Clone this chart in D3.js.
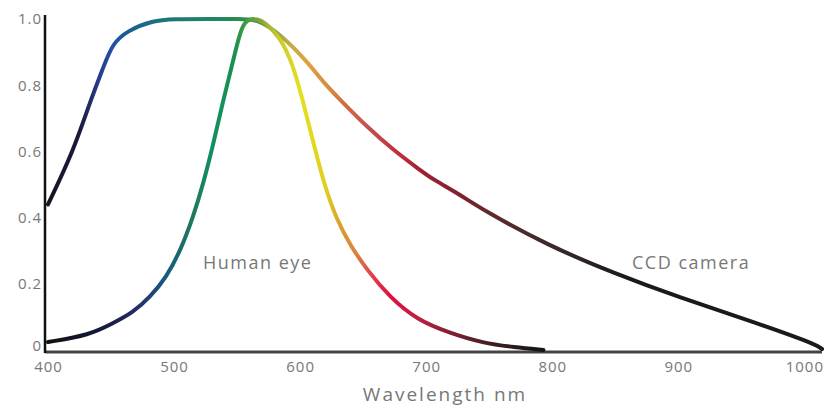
<!DOCTYPE html>
<html>
<head>
<meta charset="utf-8">
<script src="https://cdn.jsdelivr.net/npm/d3@7"></script>
<style>
  body { margin: 0; background: #fff; }
  text { font-family: "Open Sans", sans-serif; fill: #777; }
</style>
</head>
<body>
<div id="vis"></div>
<script>
// data (wavelength nm, relative response)
const eye_nm  = [400, 433, 452, 467, 481, 494, 505, 515, 523, 531, 539, 547, 552, 556, 560, 566, 572, 584, 594, 602, 610, 619, 629, 640, 653, 671, 693, 719, 745, 770, 793];
const eye_val = [0.024, 0.045, 0.082, 0.112, 0.16, 0.22, 0.30, 0.40, 0.50, 0.62, 0.755, 0.876, 0.955, 0.99, 1.0, 1.0, 0.99, 0.946, 0.867, 0.755, 0.634, 0.50, 0.393, 0.315, 0.242, 0.16, 0.09, 0.051, 0.021, 0.008, 0.0];

const ccd_nm  = [400, 420, 433, 444, 451, 463, 483, 499, 530, 552, 566, 584, 606, 618, 632, 653, 674, 695, 706, 725, 745, 796, 848, 902, 955, 1007, 1014];
const ccd_val = [0.44, 0.60, 0.746, 0.855, 0.925, 0.965, 0.995, 1.0, 1.0, 1.0, 1.0, 0.955, 0.87, 0.81, 0.755, 0.674, 0.604, 0.544, 0.514, 0.474, 0.423, 0.317, 0.233, 0.157, 0.091, 0.021, 0.003];

// line colour stops along wavelength
const eye_stop_nm  = [400, 440, 467, 481, 494, 505, 515, 530, 548, 560, 570, 582, 600, 620, 632, 645, 657, 672, 692, 720, 750, 790];
const eye_stop_col = ["#111111", "#15183a", "#252a60", "#20407a", "#1a5a80", "#1a6a70", "#207a5a", "#109060", "#1a9050", "#50a040", "#90a830", "#c8c830", "#e4e020", "#e0d020", "#d8a030", "#d88040", "#e04050", "#e01040", "#c02040", "#802030", "#402020", "#151515"];

const ccd_stop_nm  = [400, 425, 440, 450, 465, 485, 520, 550, 565, 577, 592, 606, 620, 634, 655, 676, 697, 725, 750, 800, 860];
const ccd_stop_col = ["#151525", "#1a1a3a", "#2a3a8a", "#2050a0", "#1a6090", "#1a7080", "#208070", "#2a8a50", "#40904a", "#80a040", "#c0b040", "#e0a040", "#d89040", "#d07040", "#c05050", "#c03040", "#a02030", "#802030", "#602a2a", "#3a2a2a", "#1a1a1a"];

const x_ticks = [400, 500, 600, 700, 800, 900, 1000];
const y_ticks = [0, 0.2, 0.4, 0.6, 0.8, 1.0];

const frame_width = 825;
const frame_height = 409;

const x_scale = d3.scaleLinear().domain([400, 1014]).range([48, 822]);
const y_scale = d3.scaleLinear().domain([0, 1]).range([350, 19]);

const svg = d3.select("#vis")
  .append("svg")
    .attr("width", frame_width)
    .attr("height", frame_height);

const defs = svg.append("defs");

function addGradient(id, nms, cols) {
  const g = defs.append("linearGradient")
    .attr("id", id)
    .attr("gradientUnits", "userSpaceOnUse")
    .attr("x1", x_scale(400)).attr("y1", 0)
    .attr("x2", x_scale(1014)).attr("y2", 0);
  const span = x_scale(1014) - x_scale(400);
  nms.forEach((nm, i) => {
    g.append("stop")
      .attr("offset", (x_scale(nm) - x_scale(400)) / span)
      .attr("stop-color", cols[i]);
  });
}
addGradient("eyeGrad", eye_stop_nm, eye_stop_col);
addGradient("ccdGrad", ccd_stop_nm, ccd_stop_col);

const line = d3.line()
  .x(d => x_scale(d[0]))
  .y(d => y_scale(d[1]))
  .curve(d3.curveBasis);

// x axis
const xAxis = svg.append("g")
  .attr("transform", "translate(0,352)")
  .call(d3.axisBottom(x_scale).tickValues(x_ticks).tickSize(0).tickPadding(9)
    .tickFormat(d3.format("d")));
xAxis.select(".domain").attr("stroke", "#444").attr("stroke-width", 3)
  .attr("d", "M45,0H822");
xAxis.selectAll("text").attr("font-size", "15px").attr("fill", "#777")
  .attr("letter-spacing", "1px")
  .attr("font-family", "Open Sans, sans-serif");

// y axis
const yAxis = svg.append("g")
  .attr("transform", "translate(45,0)")
  .call(d3.axisLeft(y_scale).tickValues(y_ticks).tickSize(0).tickPadding(3)
    .tickFormat(d => d === 0 ? "0" : d3.format(".1f")(d)));
yAxis.select(".domain").attr("stroke", "#111").attr("stroke-width", 2.5)
  .attr("d", "M0,15V353");
yAxis.selectAll("text").attr("font-size", "15px").attr("fill", "#777")
  .attr("letter-spacing", "1px")
  .attr("font-family", "Open Sans, sans-serif")
  .attr("dy", d => d === 0 ? "0.05em" : "0.32em");

// curves
svg.append("path")
  .datum(ccd_nm.map((d, i) => [d, ccd_val[i]]))
  .attr("d", line)
  .attr("fill", "none")
  .attr("stroke", "url(#ccdGrad)")
  .attr("stroke-width", 4)
  .attr("stroke-linecap", "round");

svg.append("path")
  .datum(eye_nm.map((d, i) => [d, eye_val[i]]))
  .attr("d", line)
  .attr("fill", "none")
  .attr("stroke", "url(#eyeGrad)")
  .attr("stroke-width", 4)
  .attr("stroke-linecap", "round");

// labels
svg.append("text")
  .attr("x", 203).attr("y", 269)
  .attr("font-size", "18px")
  .attr("letter-spacing", "1.5px")
  .text("Human eye");

svg.append("text")
  .attr("x", 632).attr("y", 269)
  .attr("font-size", "18px")
  .attr("letter-spacing", "1.5px")
  .text("CCD camera");

svg.append("text")
  .attr("x", 445).attr("y", 401)
  .attr("text-anchor", "middle")
  .attr("font-size", "19px")
  .attr("letter-spacing", "2px")
  .text("Wavelength nm");
</script>
</body>
</html>
